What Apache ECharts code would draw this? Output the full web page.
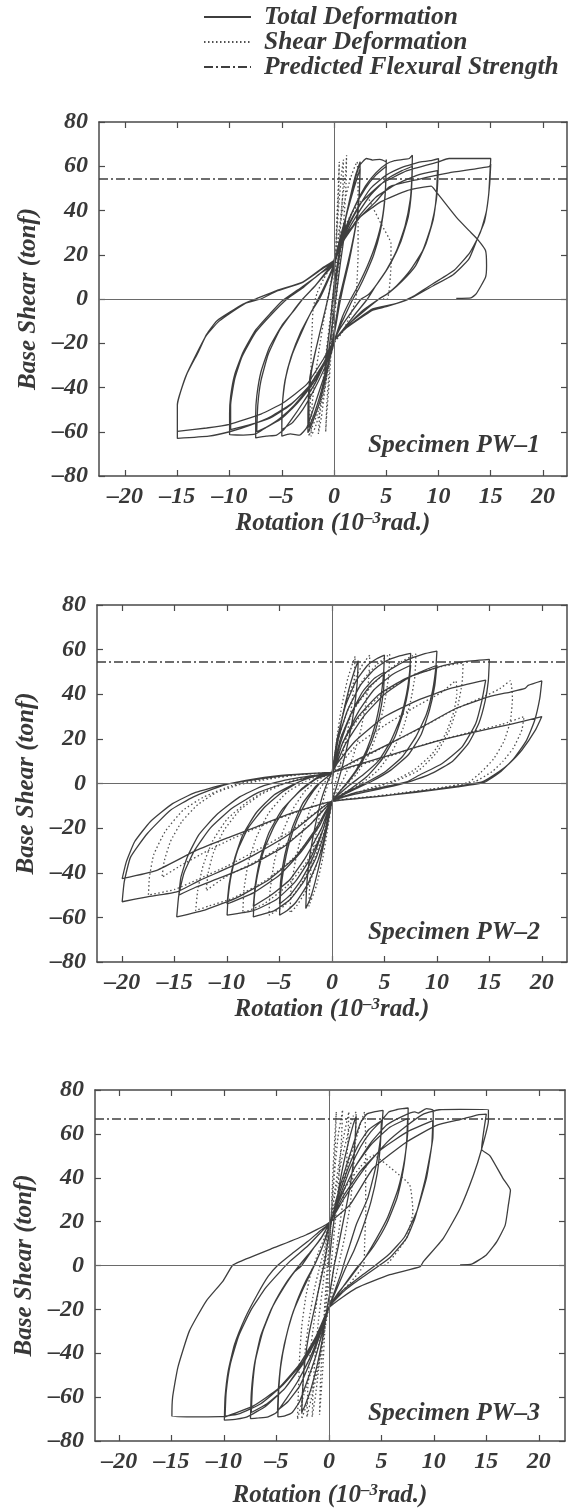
<!DOCTYPE html>
<html>
<head>
<meta charset="utf-8">
<script src="https://cdn.jsdelivr.net/npm/echarts@6/dist/echarts.min.js"></script>
<style>
  html, body { margin: 0; padding: 0; background: #fff; }
  #main { width: 576px; height: 1509px; }
</style>
</head>
<body>
<div id="main"></div>
<script>
// tick labels and per-panel values
var xTicks = [-20, -15, -10, -5, 0, 5, 10, 15, 20];
var specimens = ['Specimen PW–1', 'Specimen PW–2', 'Specimen PW–3'];
var strength = [54.5, 54.5, 67];

// ---- PW-1 total deformation, read cycle by cycle ----
var pw1Elastic = [[0,0],[0.3,12],[0.6,22],[0.9,30],[1.1,36],[0.9,26],[0.6,16],[0.3,5],[0,-6],[-0.3,-16],[-0.6,-26],[-0.9,-34],[-0.7,-24],[-0.4,-13],[-0.2,-3],[0,6]];
var pw1Loop25 = [[0.4,18],[0.9,32],[1.5,45],[2,55],[2.5,62],[2.45,52],[2.3,40],[1.9,28],[1.4,16],[0.9,6],[0.5,-3],[0.1,-14],[-0.3,-24],[-0.8,-36],[-1.4,-47],[-2,-55],[-2.5,-60.5],[-2.5,-52],[-2.45,-44],[-2.3,-35],[-1.8,-24],[-1.2,-12],[-0.6,0],[-0.2,9],[0.1,17],
  [0.6,28],[1.3,40],[1.9,50],[2.5,59],[2.4,46],[2.1,34],[1.6,22],[1,10],[0.5,0],[0.1,-12],[-0.2,-20],[-0.7,-32],[-1.3,-43],[-1.9,-52],[-2.4,-58],[-2.4,-46],[-2.2,-34],[-1.7,-22],[-1.1,-10],[-0.5,2],[0,15]];
var pw1Loop5 = [[0.5,25],[1.2,38],[1.8,50],[2.4,60],[3.1,63.5],[3.7,62.8],[4.4,63.1],[5,62],[5,63],[4.95,52],[4.8,42],[4.4,30],[3.8,20],[3.1,12],[2.4,5],[1.8,0],[1.1,-7],[0.4,-14],[0,-20],[-0.6,-30],[-1.3,-40],[-2,-50],[-2.6,-58],[-3.3,-61.5],[-4.2,-61],[-5,-62],[-5,-53],[-4.9,-45],[-4.6,-35],[-4,-25],[-3.1,-15],[-2.2,-6],[-1.4,0],[-0.7,7],[0,15],
  [0.8,28],[1.8,40],[3,50],[4,56],[5,60],[4.9,48],[4.6,36],[4,25],[3.2,15],[2.3,6],[1.6,0],[0.8,-8],[0,-19],[-0.8,-30],[-1.8,-40],[-3,-50],[-4,-56],[-5,-59],[-4.95,-48],[-4.7,-37],[-4.1,-26],[-3.2,-15],[-2.2,-6],[-1.3,2],[-0.5,10],[0,16]];
var pw1Loop75 = [[1,30],[2,42],[3,51],[4,57],[5,61],[5.8,62.5],[6.5,63],[7.2,63.5],[7.5,65],[7.45,55],[7.3,45],[6.8,33],[6,22],[5,13],[4,6],[3.2,0],[2,-7],[1,-13],[0,-19],[-0.8,-28],[-1.8,-38],[-3,-47],[-4,-54],[-4.8,-59],[-5.5,-61.5],[-6.5,-62],[-7.5,-62.8],[-7.5,-52],[-7.4,-44],[-7,-33],[-6.2,-22],[-5,-12],[-3.8,-5],[-3,0],[-1.8,6],[-0.8,12],[0,17],
  [1,28],[2.2,38],[3.5,47],[5,54],[6.5,58],[7.5,60],[7.4,48],[7.1,37],[6.4,26],[5.4,16],[4.3,8],[3.3,2],[2.6,0],[1.5,-7],[0.5,-14],[0,-19],[-1,-29],[-2.3,-39],[-3.8,-48],[-5.2,-54],[-6.5,-58],[-7.4,-60],[-7.3,-48],[-7,-37],[-6.3,-25],[-5.2,-14],[-4,-6],[-3,0],[-1.8,6],[-0.7,12],[0,16]];
var pw1Loop10 = [[1,29],[2.3,41],[3.5,50],[5,56],[6.5,59.5],[7.5,61],[8.3,62],[9.2,62.5],[10,63.5],[9.95,55],[9.8,45],[9.3,33],[8.5,22],[7.3,13],[6,6],[5,2],[4.3,0],[3,-5],[1.5,-11],[0,-19],[-0.8,-28],[-2,-38],[-3.5,-47],[-5,-54],[-6.5,-58],[-7.5,-61],[-8.7,-61.5],[-10,-61.3],[-10,-52],[-9.9,-44],[-9.5,-34],[-8.7,-24],[-7.5,-14],[-6,-6],[-5,-1],[-3.5,4],[-2,9],[-0.7,14],[0,17],
  [1,27],[2.5,38],[4,46],[6,52],[8,56],[9.9,58],[9.8,47],[9.5,36],[8.8,25],[7.8,15],[6.5,8],[5.3,3],[4.3,0],[2.8,-5],[1.3,-12],[0,-19],[-1,-29],[-2.5,-40],[-4.2,-48],[-6.2,-54],[-8.2,-57],[-9.9,-59],[-9.9,-48],[-9.5,-36],[-8.8,-26],[-7.5,-15],[-6,-7],[-4.5,0],[-3,5],[-1.5,11],[0,16]];
var pw1Loop15 = [[1,30],[2.5,43],[4.5,52],[7,58],[10,62],[11,63.5],[12.5,63.5],[14,63.5],[15,63.5],[14.9,55],[14.8,47],[14.4,35],[13.7,27],[12.9,18],[11.4,11],[9.5,6],[7.2,0],[5,-3.5],[3.7,-5],[1.2,-13],[0,-19],[-0.8,-28],[-2,-38],[-4,-47],[-6,-53],[-8,-57],[-10,-60],[-12,-62],[-15,-63],[-15,-55],[-15,-47.6],[-14.1,-34],[-13,-24],[-12.2,-16],[-11.2,-9.8],[-8.7,-2.3],[-7.5,0],[-5.5,3.8],[-3,7.6],[-1,14.4],[0,17.4],
  [1,27],[2.5,37],[4,44],[5.3,50.7],[8,54],[11,57],[14.85,59.8],[15,61],[14.9,52],[14.6,40],[14,30],[13,21],[11.5,13],[9.5,7],[7.5,1],[6,-2],[3.7,-4.5],[1.2,-12.9],[0,-18.9],[-1,-27],[-2.6,-38.5],[-4.9,-47],[-7,-52],[-10,-56.7],[-12.2,-58.3],[-15,-59.8],[-15,-48],[-14.2,-35],[-12.3,-17],[-11,-10],[-8.5,-2],[-7,0],[-5.5,3.5],[-3,7.5],[-1,14],[0,17]];
var pw1Failure = [[1,28],[2.5,37],[4.5,44],[7,49],[9.3,51],[9.9,47.7],[11.7,37],[12.9,31],[13.7,27.2],[14.5,21.9],[14.6,15],[14.5,9.8],[13.6,2.3],[13.1,0.5],[11.7,0.3]];
var pw1Shear = [[0,0],[0.15,20],[0.3,40],[0.45,55],[0.5,62],[0.45,50],[0.3,35],[0.15,20],[0,5],[-0.15,-10],[-0.3,-25],[-0.5,-40],[-0.7,-52],[-0.8,-60],[-0.7,-48],[-0.5,-34],[-0.3,-20],[-0.15,-6],[0,8],
  [0.2,25],[0.45,42],[0.7,56],[0.9,63],[0.85,50],[0.7,38],[0.5,25],[0.3,12],[0.1,0],[-0.2,-14],[-0.5,-28],[-0.9,-42],[-1.2,-53],[-1.5,-61],[-1.3,-48],[-1,-35],[-0.7,-22],[-0.4,-10],[-0.1,2],[0.2,15],
  [0.5,30],[0.8,45],[1.1,56],[1.2,65],[1.15,52],[1,40],[0.8,28],[0.5,15],[0.3,4],[0,-10],[-0.4,-24],[-0.8,-38],[-1.3,-50],[-1.8,-58],[-2.2,-62],[-2.1,-48],[-1.8,-35],[-1.4,-22],[-1,-10],[-0.6,0],[-0.2,10],[0.2,20],
  [0.5,32],[1,44],[1.6,55],[2.2,62],[2.3,50],[2.3,35],[2.3,20],[2.2,8],[2.1,0],[1.5,-8],[0.8,-15],[0,-20],[-0.5,-30],[-1,-42],[-1.6,-52],[-2.1,-58],[-2.4,-62],[-2.3,-50],[-2.2,-38],[-2.2,-26],[-2.1,-14],[-2,-4],[-1.6,3],[-1,9],[-0.4,14],[0,18],
  [0.8,30],[1.6,38],[2.5,44],[3.2,46],[3.7,41.4],[4.5,34],[5.45,25],[5.45,15],[5.3,5],[5.1,0],[4.7,0]];

// ---- PW-2 ----
var pw2Loop25 = [[0,0],[0.4,15],[1,30],[1.6,42],[2.1,50],[2.5,55],[2.4,45],[2.1,33],[1.6,20],[1,8],[0.4,-2],[0,-8],[-0.4,-18],[-1,-32],[-1.6,-44],[-2.1,-52],[-2.5,-56],[-2.4,-45],[-2.1,-32],[-1.6,-19],[-1,-7],[-0.4,1],[0,5]];
var pw2Loop5 = [[0.5,20],[1.3,35],[2.3,46],[3.4,53],[4.3,56],[5,57.5],[4.9,48],[4.6,37],[4.1,26],[3.3,15],[2.3,6],[1.2,-1],[0,-8],[-0.5,-20],[-1.3,-34],[-2.3,-45],[-3.4,-53],[-4.3,-57],[-5,-59],[-4.9,-49],[-4.6,-38],[-4.1,-27],[-3.3,-16],[-2.3,-7],[-1.2,0],[0,5],
  [0.8,18],[1.8,31],[2.9,41],[4,47],[5,50],[4.9,41],[4.5,30],[3.8,19],[2.8,9],[1.6,1],[0,-8],[-0.8,-20],[-1.8,-33],[-2.9,-43],[-4,-50],[-5,-54],[-4.9,-44],[-4.5,-32],[-3.8,-20],[-2.8,-9],[-1.5,-1],[0,5]];
var pw2Loop75 = [[0.6,20],[1.5,33],[2.7,44],[4,51],[5.2,55],[6.3,57],[7.5,58.3],[7.4,50],[7.1,40],[6.5,29],[5.6,19],[4.4,10],[3,4],[1.6,-1],[0,-8],[-0.6,-20],[-1.5,-33],[-2.7,-44],[-4,-52],[-5.5,-57],[-7.5,-59.8],[-7.4,-51],[-7.1,-41],[-6.5,-30],[-5.5,-19],[-4.2,-9],[-2.8,-2],[-1.3,3],[0,5],
  [1,18],[2.5,32],[4,42],[5.8,49],[7.5,53],[7.3,43],[6.8,32],[6,21],[4.8,11],[3.3,3],[1.6,-3],[0,-8],[-1,-20],[-2.5,-33],[-4,-43],[-5.8,-50],[-7.5,-55],[-7.3,-45],[-6.8,-33],[-6,-22],[-4.8,-12],[-3.2,-4],[-1.5,2],[0,5]];
var pw2Loop10 = [[0.8,20],[2,33],[3.5,43],[5.2,50],[7,55],[8.7,58],[10,59.3],[9.9,52],[9.6,42],[9,31],[8,21],[6.7,12],[5,5],[3.5,1],[2,-2.5],[0,-8],[-0.8,-20],[-2,-33],[-3.5,-44],[-5.3,-52],[-7.5,-57],[-10,-59],[-9.9,-51],[-9.6,-41],[-9,-30],[-8,-20],[-6.5,-11],[-4.8,-4],[-3,1],[-1.2,4],[0,5],
  [1.2,17],[3,30],[5,40],[7.5,48],[10,53],[9.8,44],[9.3,33],[8.5,22],[7.3,13],[5.6,6],[3.8,1],[2,-3],[0,-8],[-1.2,-19],[-3,-31],[-5,-41],[-7.5,-49],[-10,-54],[-9.8,-45],[-9.3,-34],[-8.5,-23],[-7.2,-13],[-5.5,-5],[-3.5,0],[-1.5,3.5],[0,5]];
var pw2Loop15 = [[1,18],[2.5,30],[4.5,40],[7,47],[10.2,52.3],[12.5,54.5],[15,55.6],[14.9,46],[14.6,37],[14,27],[13,18],[11.5,10],[9.5,4.5],[7.5,1],[5,-2],[2,-5],[0,-8],[-1.5,-20],[-3.5,-33],[-6,-43],[-9,-51],[-12,-56.5],[-14.8,-59.8],[-14.6,-50],[-14.1,-40],[-13.1,-30],[-11.6,-20],[-9.5,-11],[-7,-4],[-4.5,0],[-2,3],[0,5],
  [0.5,9],[2.3,19.4],[5,29.9],[8.2,37.4],[11.3,42.6],[14.65,46.3],[14.3,37.4],[13.7,26.9],[12.4,16.4],[10.5,9],[8.3,3.7],[7.1,0.7],[5.5,-1],[2.3,-4],[0,-8],[-2,-18],[-4.5,-28],[-7.5,-36],[-10.5,-42],[-13,-46.5],[-14.6,-50],[-14.4,-42],[-13.8,-33],[-12.7,-23],[-11,-14],[-8.8,-6],[-6.5,-1],[-4,2],[0,5]];
var pw2Loop20 = [[2.3,10.5],[5.5,17.9],[8.6,25.4],[11.8,33.6],[15,38.9],[17,41],[18.4,42.6],[18.7,44],[20,46],[19.8,38],[19.3,28],[18.5,19],[17.3,11],[16,5],[14.5,0.5],[12,-1.5],[8,-4],[4,-6],[0,-8],[-0.85,-10.5],[-4,-22.4],[-7.2,-31.4],[-9.7,-37.4],[-12.6,-43.4],[-14.8,-48.6],[-17.6,-50.8],[-20,-53],[-19.8,-44],[-19.2,-33],[-17.6,-22.4],[-15.4,-12],[-13.2,-6],[-10.3,-0.7],[-7.2,2.2],[-4,4],[-0.9,4.8],[0,5],
  [5,12],[10,19],[14,23.5],[17,26.5],[20,30],[19.4,24],[18.1,15],[16.9,9],[15.9,5.2],[14.3,0.7],[10,-2.5],[5,-5.5],[0,-8],[-4,-13.5],[-7.2,-19.4],[-9.7,-23.9],[-12.9,-29.9],[-16.7,-38.9],[-20,-42.6],[-19.6,-35],[-18.8,-26],[-17.3,-17],[-15.2,-9],[-13,-4],[-10.3,-0.5],[-7,2],[-3.5,4],[0,5]];
var pw2Shear = [[0,0],[0.4,18],[0.9,34],[1.5,47],[2.2,57],[2.1,45],[1.8,32],[1.3,19],[0.7,7],[0.2,-2],[0,-8],[-0.4,-20],[-0.9,-34],[-1.5,-46],[-2.2,-55],[-2.1,-43],[-1.8,-30],[-1.3,-17],[-0.7,-5],[-0.2,2],[0,5],
  [0.5,20],[1.3,36],[2.3,48],[3,54],[3.6,57.5],[3.5,47],[3.2,35],[2.7,23],[2,12],[1.2,3],[0,-8],[-0.6,-22],[-1.5,-37],[-2.6,-49],[-3.4,-55],[-4,-58],[-3.9,-47],[-3.5,-35],[-2.9,-23],[-2.1,-12],[-1.1,-2],[0,5],
  [0.6,20],[1.6,34],[2.9,46],[4.2,53],[5.5,58],[5.4,48],[5,36],[4.4,24],[3.5,13],[2.3,4],[1,-2],[0,-8],[-0.7,-21],[-1.8,-35],[-3.2,-47],[-4.6,-55],[-6,-59],[-5.9,-48],[-5.5,-35],[-4.8,-23],[-3.8,-12],[-2.5,-3],[-1,2.5],[0,5],
  [0.8,20],[2.2,34],[4,45],[6,53],[8,58],[7.9,48],[7.5,37],[6.8,25],[5.8,15],[4.4,6],[2.8,0],[1.2,-4],[0,-8],[-0.9,-21],[-2.4,-35],[-4.3,-46],[-6.5,-54],[-8.5,-58],[-8.4,-48],[-8,-36],[-7.2,-24],[-6,-13],[-4.3,-4],[-2.5,1],[-1,4],[0,5],
  [1,18],[2.8,31],[5,41],[7.8,48.5],[10.5,52.5],[12.5,54],[12.4,45],[12,35],[11.2,24],[10,14],[8.3,6],[6.3,1.5],[4,-2],[1.8,-5],[0,-8],[-1.5,-21],[-3.8,-34],[-6.5,-44],[-9.5,-51.5],[-11.8,-55],[-13,-57],[-12.8,-48],[-12.3,-37],[-11.4,-26],[-10,-16],[-8,-8],[-5.8,-2],[-3.3,2],[0,5],
  [2.3,17],[5,26],[8,34.5],[10.5,41],[11.8,46],[11.9,40],[11.6,32],[10.8,22],[9.5,13],[7.8,6],[6,1.5],[4,-1.5],[1.8,-5],[0,-8],[-2,-18],[-4.5,-27.5],[-7.5,-35.5],[-10.2,-42],[-12,-48],[-11.8,-40],[-11.3,-31],[-10.3,-21],[-8.8,-12],[-6.8,-5],[-4.5,0],[-2,3],[0,5],
  [2.3,10],[5.4,17.5],[8.5,25],[11.6,33],[14.5,39],[16,42.5],[17,46],[17.2,38],[17,28],[16.4,19],[15.4,11],[14.2,5],[13,0.5],[10.5,-1.8],[7,-4],[3.5,-6],[0,-8],[-4,-21.5],[-7.2,-30],[-10,-37],[-12.8,-43],[-15,-47.5],[-17.5,-50],[-17.4,-42],[-17,-32],[-15.9,-21.5],[-14.2,-12],[-12.2,-6],[-9.6,-1],[-6.8,2],[-3.8,3.8],[0,5],
  [5,11.5],[9.5,18.5],[13.2,23],[16.2,26.5],[18.3,30],[18.1,24],[17.3,16],[16.3,10],[15.3,5.5],[13.6,0.8],[9.5,-2.5],[5,-5.3],[0,-8],[-4,-13.8],[-7,-19.5],[-9.4,-24.5],[-12,-30.5],[-14.5,-37],[-16.2,-42],[-16,-35],[-15.4,-26],[-14.3,-17],[-12.8,-9.5],[-11,-4],[-8.8,-0.5],[-6,2],[-3,4],[0,5]];

// ---- PW-3 ----
var pw3Loop25 = [[0,0],[0.3,14],[0.7,28],[1.2,42],[1.8,55],[2.3,64],[2.6,68],[2.5,58],[2.3,46],[1.9,33],[1.4,21],[0.9,9],[0.5,0],[0.1,-12],[-0.2,-20],[-0.6,-33],[-1.1,-45],[-1.7,-56],[-2.3,-64],[-2.6,-67],[-2.5,-56],[-2.3,-44],[-1.9,-31],[-1.3,-18],[-0.8,-7],[-0.4,2],[0,14],[0.2,19]];
var pw3Loop5 = [[0.7,30],[1.5,43],[2.3,55],[3,65],[3.6,69],[4.3,70],[5.16,70.7],[5,60.9],[4.5,45.8],[3.7,30.7],[2.6,18.6],[2,9.5],[1.5,2],[1.2,-3],[0.6,-11],[0,-19],[-0.6,-30],[-1.3,-42],[-2.1,-53],[-2.8,-62],[-3.5,-67],[-4.2,-68.5],[-4.87,-69],[-4.8,-58],[-4.6,-46],[-4.1,-33],[-3.4,-21],[-2.5,-11],[-1.7,-3],[-1.2,2],[-0.5,10],[0,17],
  [0.8,30],[1.8,44],[2.8,55],[3.8,62],[5,66],[4.9,55],[4.6,42],[4,29],[3.2,17],[2.4,7],[1.6,-1],[0.8,-10],[0,-19],[-0.8,-31],[-1.8,-44],[-2.8,-55],[-3.9,-62],[-4.9,-66],[-4.8,-55],[-4.5,-42],[-3.9,-29],[-3.1,-17],[-2.2,-7],[-1.3,1],[-0.5,10],[0,18]];
var pw3Loop75 = [[1,31],[2,44],[3,54],[4,61],[5,66],[5.7,70],[6.4,71],[7,71.5],[7.55,71.8],[7.5,60],[7.2,48],[6.6,35],[5.6,22],[4.5,12],[3.5,4],[2.9,0],[1.8,-7],[0.8,-13],[0,-19],[-0.8,-30],[-1.8,-42],[-3,-53],[-4.1,-61],[-5,-67],[-5.8,-69],[-6.7,-69.5],[-7.48,-69.8],[-7.4,-58],[-7.1,-45],[-6.5,-32],[-5.5,-20],[-4.3,-10],[-3.3,-3],[-2.6,0],[-1.6,7],[-0.7,13],[0,19],
  [1.2,32],[2.5,45],[4,55],[5.8,63],[7.5,67],[7.4,56],[7.1,44],[6.5,31],[5.5,19],[4.3,9],[3.2,2],[2.5,-2],[1.3,-10],[0,-19],[-1.2,-32],[-2.6,-45],[-4.2,-56],[-5.9,-63],[-7.4,-67],[-7.3,-56],[-7,-43],[-6.3,-30],[-5.3,-18],[-4.1,-8],[-3,-1],[-1.8,6],[-0.8,12],[0,19]];
var pw3Loop10 = [[1.2,32],[2.5,45],[4,56],[5.5,64],[7,68],[8.2,70],[8.5,69.5],[9.3,71.5],[9.94,70.7],[9.9,57.9],[9.2,39.7],[8.2,21.6],[7.4,12.5],[5.8,3.5],[4.8,0],[3.3,-5],[1.6,-11],[0,-19],[-1,-32],[-2.5,-45],[-4.2,-56],[-6,-64],[-7.8,-69],[-8.8,-70],[-9.97,-70.5],[-9.9,-60],[-9.6,-48],[-9,-36],[-8,-24],[-6.8,-13],[-5.8,-5],[-4.9,0],[-3.5,5.5],[-2,11],[-0.8,16],[0,19],
  [1.3,31],[3,43],[5,53],[7.5,61],[9.9,66],[9.8,55],[9.3,40],[8.4,25],[7.2,13],[5.7,5],[4.4,0],[3,-5],[1.4,-11],[0,-19],[-1.2,-32],[-2.8,-45],[-4.8,-56],[-7.2,-64],[-9.9,-69],[-9.8,-58],[-9.4,-45],[-8.6,-32],[-7.4,-20],[-6,-10],[-4.7,-3],[-3.7,2],[-2,9],[-0.8,15],[0,19]];
var pw3Loop15 = [[1.5,31],[3.5,45],[5.5,56],[7.5,64],[9,69],[10.5,71],[12.5,71.2],[15.2,71.1],[15.2,66],[14.55,53],[13.76,41],[12.5,26],[10.9,12.4],[9,1.8],[8.7,-0.5],[5.8,-4.2],[2.6,-10.3],[0,-19.3],[-1,-31],[-2.5,-44],[-4.5,-55],[-6.5,-63],[-8.5,-67.5],[-10,-68.8],[-12.4,-69],[-14.97,-68.7],[-14.9,-60],[-14.4,-46.4],[-13.3,-29.8],[-11.7,-16.2],[-10.1,-7.1],[-9.2,0],[-8.5,1.8],[-5.35,7.9],[-2.2,13.9],[-0.25,18.7],
  [1.97,27.5],[4.2,44.2],[7.4,56.3],[10.25,63.9],[12.5,66.5],[14.2,68.7],[15,69],[14.55,53],[15.35,50],[16.6,39.6],[17.3,34.3],[17.1,27.5],[16.8,18.4],[16,10.9],[15,4.8],[13.6,0.6],[12.5,0.3]];
var pw3Shear = [[0,0],[0.2,22],[0.4,45],[0.6,62],[0.7,70],[0.6,55],[0.4,38],[0.2,20],[0,4],[-0.2,-12],[-0.4,-30],[-0.6,-48],[-0.8,-62],[-0.9,-68],[-0.8,-52],[-0.6,-35],[-0.4,-18],[-0.2,-3],[0,10],
  [0.3,28],[0.6,46],[0.9,60],[1.2,68],[1.3,71],[1.2,58],[1,44],[0.8,30],[0.5,15],[0.2,0],[-0.2,-15],[-0.6,-32],[-1,-48],[-1.3,-60],[-1.6,-69],[-1.5,-55],[-1.3,-40],[-1,-25],[-0.6,-10],[-0.3,3],[0,15],
  [0.5,32],[1,48],[1.5,61],[1.9,70],[1.8,56],[1.6,42],[1.3,28],[0.9,14],[0.5,0],[0,-17],[-0.5,-32],[-1,-46],[-1.6,-59],[-2.1,-69],[-2,-54],[-1.8,-40],[-1.4,-25],[-1,-11],[-0.5,2],[0,17],
  [0.6,33],[1.2,48],[1.8,60],[2.3,68],[2.6,70],[2.5,56],[2.3,41],[2,27],[1.5,13],[1,2],[0.4,-10],[0,-19],[-0.6,-34],[-1.2,-48],[-1.9,-60],[-2.6,-70],[-2.5,-55],[-2.3,-40],[-1.9,-25],[-1.4,-11],[-0.9,-1],[-0.3,10],[0,19],
  [0.9,33],[1.8,46],[2.6,58],[3.1,66],[3.4,70],[3.5,55],[3.5,40],[3.5,23],[3.4,10],[3.3,0],[2,-8],[0.8,-14],[0,-19],[-0.8,-33],[-1.6,-47],[-2.4,-59],[-3,-70],[-2.9,-56],[-2.8,-42],[-2.6,-28],[-2.2,-14],[-1.7,-3],[-1,6],[-0.4,13],[0,19],
  [1.5,35],[3,45],[4.2,50.3],[6,44],[7.7,36.7],[8,24.6],[7.4,12.5],[5.8,2],[5.3,0]];

var totals = [
  [].concat(pw1Elastic, pw1Loop25, pw1Loop5, pw1Loop75, pw1Loop10, pw1Loop15, pw1Failure),
  [].concat(pw2Loop25, pw2Loop5, pw2Loop75, pw2Loop10, pw2Loop15, pw2Loop20),
  [].concat(pw3Loop25, pw3Loop5, pw3Loop75, pw3Loop10, pw3Loop15)
];
var shears = [pw1Shear, pw2Shear, pw3Shear];

var chart = echarts.init(document.getElementById('main'));

var serif = '"Liberation Serif", "DejaVu Serif", serif';
var ink = '#383838';
var curveColor = '#3e3e3e';
var boxColor = '#4a4a4a';
var dashDot = [9, 3, 2, 3];

var grids = [
  {left: 99, top: 122, width: 468, height: 354},
  {left: 97, top: 605, width: 470, height: 357},
  {left: 95, top: 1090, width: 470, height: 353}
];
var xMin = [-22.5, -22.4, -22.3], xMax = [22.3, 22.4, 22.5];
var xNameGap = [31, 31, 41];

function minus(v){ return String(v).replace('-', '–'); }

var labelFont = {fontFamily: serif, fontSize: 24, fontWeight: 'bold', fontStyle: 'italic', color: ink};

var xAxes = [], yAxes = [], series = [], graphics = [];
grids.forEach(function(g, i){
  var line = {onZero: false, lineStyle: {color: boxColor, width: 1.5}};
  var tick = {inside: true, length: 6, lineStyle: {color: boxColor, width: 1.2}};
  xAxes.push({
    gridIndex: i, type: 'value', position: 'bottom', min: xMin[i], max: xMax[i],
    axisLine: line,
    axisTick: Object.assign({customValues: xTicks}, tick),
    axisLabel: Object.assign({customValues: xTicks, margin: 9, formatter: minus}, labelFont),
    splitLine: {show: false},
    name: '{t|Rotation (10}{s|–3}{t|rad.)}',
    nameLocation: 'middle', nameGap: xNameGap[i],
    nameTextStyle: {rich: {
      t: {fontFamily: serif, fontSize: 25, fontWeight: 'bold', fontStyle: 'italic', color: ink},
      s: {fontFamily: serif, fontSize: 17, fontWeight: 'bold', fontStyle: 'italic', color: ink, padding: [0, 0, 10, 0]}
    }}
  });
  xAxes.push({
    gridIndex: i, type: 'value', position: 'top', min: xMin[i], max: xMax[i],
    axisLine: line,
    axisTick: Object.assign({customValues: xTicks}, tick),
    axisLabel: {show: false}, splitLine: {show: false}
  });
  yAxes.push({
    gridIndex: i, type: 'value', position: 'left', min: -80, max: 80, interval: 20,
    axisLine: line, axisTick: tick,
    axisLabel: Object.assign({margin: 11, formatter: minus}, labelFont),
    splitLine: {show: false},
    name: 'Base Shear (tonf)', nameLocation: 'middle', nameGap: 58, nameRotate: 90,
    nameTextStyle: {fontFamily: serif, fontSize: 25, fontWeight: 'bold', fontStyle: 'italic', color: ink}
  });
  yAxes.push({
    gridIndex: i, type: 'value', position: 'right', min: -80, max: 80, interval: 20,
    axisLine: line, axisTick: tick,
    axisLabel: {show: false}, splitLine: {show: false}
  });

  series.push({
    name: 'Total Deformation', type: 'line', xAxisIndex: 2 * i, yAxisIndex: 2 * i,
    data: totals[i], symbol: 'none', smooth: 0.15, z: 3,
    itemStyle: {color: curveColor},
    lineStyle: {color: curveColor, width: 1.3},
    markLine: {
      silent: true, symbol: 'none', label: {show: false}, animation: false,
      lineStyle: {color: '#6a6a6a', width: 1, type: 'solid'},
      data: [{xAxis: 0}, {yAxis: 0}]
    }
  });
  series.push({
    name: 'Shear Deformation', type: 'line', xAxisIndex: 2 * i, yAxisIndex: 2 * i,
    data: shears[i], symbol: 'none', smooth: 0.15, z: 2,
    itemStyle: {color: '#505050'},
    lineStyle: {color: '#505050', width: 1.3, type: [1.5, 2.5]}
  });
  series.push({
    name: 'Predicted Flexural Strength', type: 'line', xAxisIndex: 2 * i, yAxisIndex: 2 * i,
    data: [], symbol: 'none',
    itemStyle: {color: curveColor},
    lineStyle: {color: curveColor, width: 1.5, type: dashDot},
    markLine: {
      silent: true, symbol: 'none', label: {show: false}, animation: false,
      lineStyle: {color: curveColor, width: 1.5, type: dashDot},
      data: [{yAxis: strength[i]}]
    }
  });

  graphics.push({
    type: 'text', right: 36, top: [432, 919, 1400][i],
    style: {text: specimens[i], font: 'italic bold 25.5px ' + serif, fill: ink}
  });
});

chart.setOption({
  animation: false,
  backgroundColor: '#ffffff',
  legend: {
    orient: 'vertical', left: 203, top: 4, padding: 0, itemGap: -1,
    itemWidth: 47, itemHeight: 12, selectedMode: false,
    itemStyle: {opacity: 0},
    data: ['Total Deformation', 'Shear Deformation', 'Predicted Flexural Strength'],
    textStyle: {fontFamily: serif, fontSize: 25.5, fontWeight: 'bold', fontStyle: 'italic', color: ink, lineHeight: 24, padding: [0, 0, 0, 8]}
  },
  grid: grids,
  xAxis: xAxes,
  yAxis: yAxes,
  series: series,
  graphic: graphics
});
</script>
</body>
</html>
